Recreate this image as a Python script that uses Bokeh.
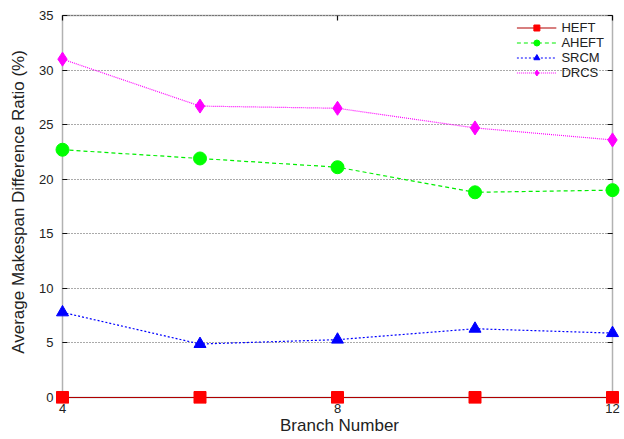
from bokeh.plotting import figure
from bokeh.models import Range1d, FixedTicker, Legend, LegendItem, BoxAnnotation, Grid
from bokeh.embed import file_html
from bokeh.resources import INLINE

branch = [4, 6, 8, 10, 12]
heft = [0, 0, 0, 0, 0]
aheft = [22.7, 21.9, 21.1, 18.8, 19.0]
srcm = [7.8, 4.9, 5.3, 6.3, 5.9]
drcs = [31.0, 26.7, 26.5, 24.7, 23.6]
x_ticks = [4, 8, 12]
y_ticks = [0, 5, 10, 15, 20, 25, 30, 35]
x_lo, x_hi = 4, 12
y_lo, y_hi = 0, 35

FONT = "Liberation Sans"

p = figure(width=624, height=439, output_backend="svg", toolbar_location=None,
           x_range=Range1d(3.8836, 12.1745), y_range=Range1d(-0.55, 36.374),
           min_border_left=54, min_border_right=0, min_border_top=0, min_border_bottom=36)

p.outline_line_color = None
p.xgrid.visible = False
p.ygrid.ticker = FixedTicker(ticks=y_ticks)
p.ygrid.cross_bounds = (x_lo, x_hi)
p.ygrid.grid_line_color = "#555555"
p.ygrid.grid_line_dash = "1 2"
p.ygrid.grid_line_width = 1

# short inward tick marks on the plot box, drawn as bounded grids
tx = 0.075
ty = 0.47
for dim, ticks, bounds in [
    (1, y_ticks, (x_lo, x_lo + tx)),
    (1, y_ticks, (x_hi - tx, x_hi)),
    (0, x_ticks, (y_lo, y_lo + ty)),
    (0, x_ticks, (y_hi - ty, y_hi)),
]:
    g = Grid(dimension=dim, ticker=FixedTicker(ticks=ticks), cross_bounds=bounds,
             grid_line_color="#111111", grid_line_width=1.2, level="underlay")
    p.add_layout(g)

frame = BoxAnnotation(left=x_lo, right=x_hi, bottom=y_lo, top=y_hi,
                      fill_alpha=0, line_color="black", line_width=1.5, level="underlay")
p.add_layout(frame)

for ax in (p.xaxis[0], p.yaxis[0]):
    ax.major_label_text_font = FONT
    ax.major_label_text_font_size = "13px"
    ax.major_label_text_color = "#222222"
    ax.axis_label_text_font = FONT
    ax.axis_label_text_font_size = "17px"
    ax.axis_label_text_font_style = "normal"
    ax.axis_label_text_color = "#222222"
    ax.major_tick_in = 0
    ax.major_tick_out = 0
    ax.major_tick_line_color = None
    ax.minor_tick_line_color = None
    ax.axis_line_color = None

p.xaxis[0].ticker = FixedTicker(ticks=x_ticks)
p.yaxis[0].ticker = FixedTicker(ticks=y_ticks)
p.xaxis[0].axis_label = "Branch Number"
p.yaxis[0].axis_label = "Average Makespan Difference Ratio (%)"
p.xaxis[0].major_label_standoff = 0
p.xaxis[0].axis_label_standoff = 0
p.yaxis[0].major_label_standoff = 1
p.yaxis[0].axis_label_standoff = 8

r_heft_l = p.line(branch, heft, line_color="#b00000", line_width=1.2)
r_heft_m = p.scatter(branch, heft, marker="square", size=12, fill_color="#ff0000", line_color="#ff0000")
r_aheft_l = p.line(branch, aheft, line_color="#00ee00", line_width=1.2, line_dash="4 3")
r_aheft_m = p.scatter(branch, aheft, marker="circle", size=13, fill_color="#00ff00", line_color="#00ff00")
r_srcm_l = p.line(branch, srcm, line_color="#0000ff", line_width=1.2, line_dash="2 2")
r_srcm_m = p.scatter(branch, srcm, marker="triangle", size=12, fill_color="#0000ff", line_color="#0000ff")
r_drcs_l = p.line(branch, drcs, line_color="#ff00ff", line_width=1.2, line_dash="1 1")
r_drcs_m = p.scatter(branch, drcs, marker="diamond", size=14, fill_color="#ff00ff", line_color="#ff00ff")

legend = Legend(items=[
    LegendItem(label="HEFT", renderers=[r_heft_l, r_heft_m]),
    LegendItem(label="AHEFT", renderers=[r_aheft_l, r_aheft_m]),
    LegendItem(label="SRCM", renderers=[r_srcm_l, r_srcm_m]),
    LegendItem(label="DRCS", renderers=[r_drcs_l, r_drcs_m]),
], location="top_right", border_line_color=None, background_fill_alpha=0,
   label_text_font=FONT, label_text_font_size="13px", label_text_color="#222222",
   glyph_width=40, glyph_height=15, spacing=0, padding=0, margin=20,
   label_standoff=5, label_height=15)
p.add_layout(legend)

open("out.html", "w").write(file_html(p, INLINE))
